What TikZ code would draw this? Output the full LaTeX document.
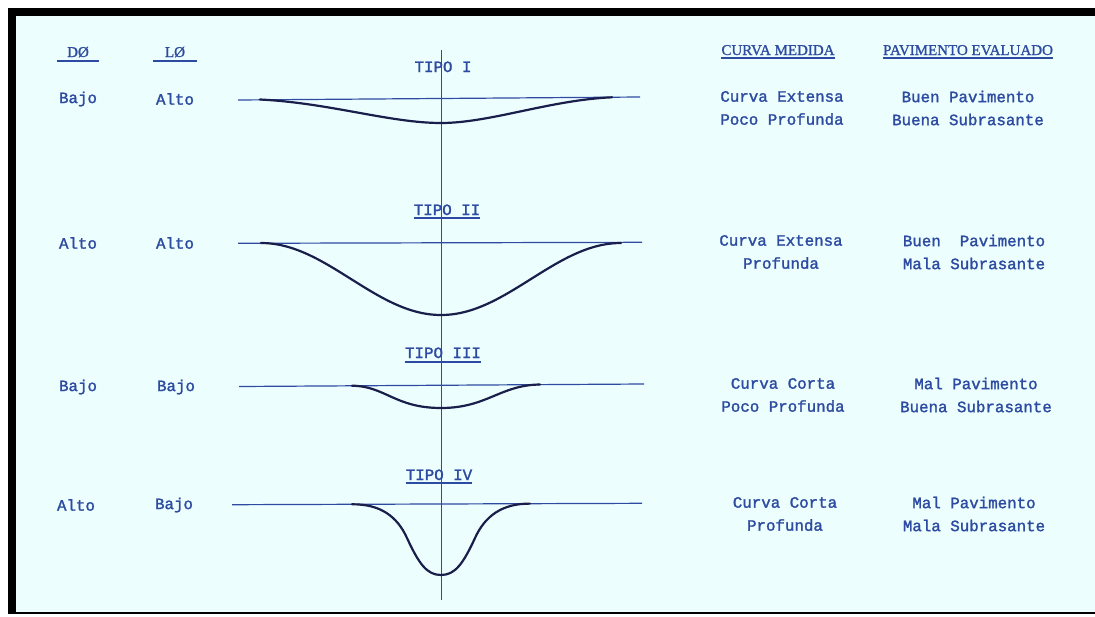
\documentclass[tikz,border=0pt]{standalone}
\usepackage{fontspec}
\setmainfont[FakeBold=1.2]{Liberation Serif}
\newfontfamily\typewriter[FakeBold=1.6]{Liberation Mono}
\usetikzlibrary{positioning}

\definecolor{paper}{RGB}{237,254,255}
\definecolor{ink}{RGB}{45,75,160}
\definecolor{pen}{RGB}{25,30,75}

\begin{document}
\begin{tikzpicture}[
    x=1pt, y=-1pt,
    txt/.style={text=ink, font=\typewriter\fontsize{15.8}{23}\selectfont, inner sep=0pt, align=center},
    head/.style={text=ink, font=\fontsize{15}{17}\selectfont, inner sep=0pt, anchor=base},
    tipo/.style={txt, anchor=base},
    base/.style={draw=ink, line width=1.2pt},
    defl/.style={draw=pen, line width=2.2pt, line cap=round},
    ul/.style={draw=ink, line width=1.4pt}
]

% Frame
\useasboundingbox (0,0) rectangle (1095,616);
\fill[white] (0,0) rectangle (1095,616);
\fill[black] (8,8) rectangle (1095,614);
\fill[paper] (16,16) rectangle (1095,612);

% Column headings
\node[head] (dh) at (78,57) {DØ};
\node[head] (lh) at (175,57) {LØ};
\node[head] (ch) at (778,55) {CURVA MEDIDA};
\node[head] (ph) at (968,55) {PAVIMENTO EVALUADO};
\draw[ul] ([xshift=-10pt,yshift=-4pt]dh.base west) -- ([xshift=10pt,yshift=-4pt]dh.base east);
\draw[ul] ([xshift=-12pt,yshift=-4pt]lh.base west) -- ([xshift=12pt,yshift=-4pt]lh.base east);
\draw[ul] ([yshift=-3pt]ch.base west) -- ([yshift=-3pt]ch.base east);
\draw[ul] ([yshift=-3pt]ph.base west) -- ([yshift=-3pt]ph.base east);

% Type titles
\node[tipo] (t1) at (443,72) {TIPO I};
\node[tipo] (t2) at (447,215) {TIPO II};
\node[tipo] (t3) at (443,358) {TIPO III};
\node[tipo] (t4) at (439,480) {TIPO IV};
\draw[ul] ([yshift=-3pt]t2.base west) -- ([yshift=-3pt]t2.base east);
\draw[ul] ([yshift=-4pt]t3.base west) -- ([yshift=-4pt]t3.base east);
\draw[ul] ([yshift=-3pt]t4.base west) -- ([yshift=-3pt]t4.base east);

% Vertical axis
\coordinate (axtop) at (441,50);
\coordinate (axbot) at (441,600);
\draw[base, line width=1pt] (axtop) -- (axbot);

% Left labels (DO, LO)
\node[txt] (d1) at (78,99) {Bajo};
\node[txt] (l1) at (175,99) {Alto};
\node[txt] (d2) at (78,243) {Alto};
\node[txt] (l2) at (175,243) {Alto};
\node[txt] (d3) at (78,387) {Bajo};
\node[txt] (l3) at (176,387) {Bajo};
\node[txt] (d4) at (76,505) {Alto};
\node[txt] (l4) at (174,505) {Bajo};

% Right labels
\node[txt] (c1) at (782,108) {Curva Extensa\\Poco Profunda};
\node[txt] (p1) at (968,108) {Buen Pavimento\\Buena Subrasante};
\node[txt] (c2) at (781,252) {Curva Extensa\\Profunda};
\node[txt] (p2) at (974,252) {Buen\ \ Pavimento\\Mala Subrasante};
\node[txt] (c3) at (783,395) {Curva Corta\\Poco Profunda};
\node[txt] (p3) at (976,395) {Mal Pavimento\\Buena Subrasante};
\node[txt] (c4) at (785,514) {Curva Corta\\Profunda};
\node[txt] (p4) at (974,514) {Mal Pavimento\\Mala Subrasante};

% Reference lines
\draw[base] (238,100) -- (640,97);
\draw[base] (238,243.3) -- (642,242.3);
\draw[base] (239,386.5) -- (644,384);
\draw[base] (232,504.7) -- (642,503.3);

% Tipo I: long, shallow
\coordinate (b1) at (441,123);
\draw[defl] (260,99.5) .. controls (330,103) and (390,123) .. (b1)
    .. controls (490,123) and (550,100) .. (612,97.3);

% Tipo II: long, deep
\draw[defl] plot[domain=-180:180, samples=73, smooth] ({441+\x}, {243+36*(1+cos(\x))});

% Tipo III: short, shallow
\coordinate (b3) at (441,408);
\draw[defl] (352,385.7) .. controls (385,386) and (395,408) .. (b3)
    .. controls (487,408) and (500,385) .. (540,384.5);

% Tipo IV: short, deep
\coordinate (b4) at (441,575);
\draw[defl] (352,504.3) .. controls (380,504) and (397,516) .. (407,538)
    .. controls (419,564) and (427,575) .. (b4)
    .. controls (455,575) and (463,564) .. (475,538)
    .. controls (485,516) and (502,503.5) .. (530,503.6);

\end{tikzpicture}
\end{document}
